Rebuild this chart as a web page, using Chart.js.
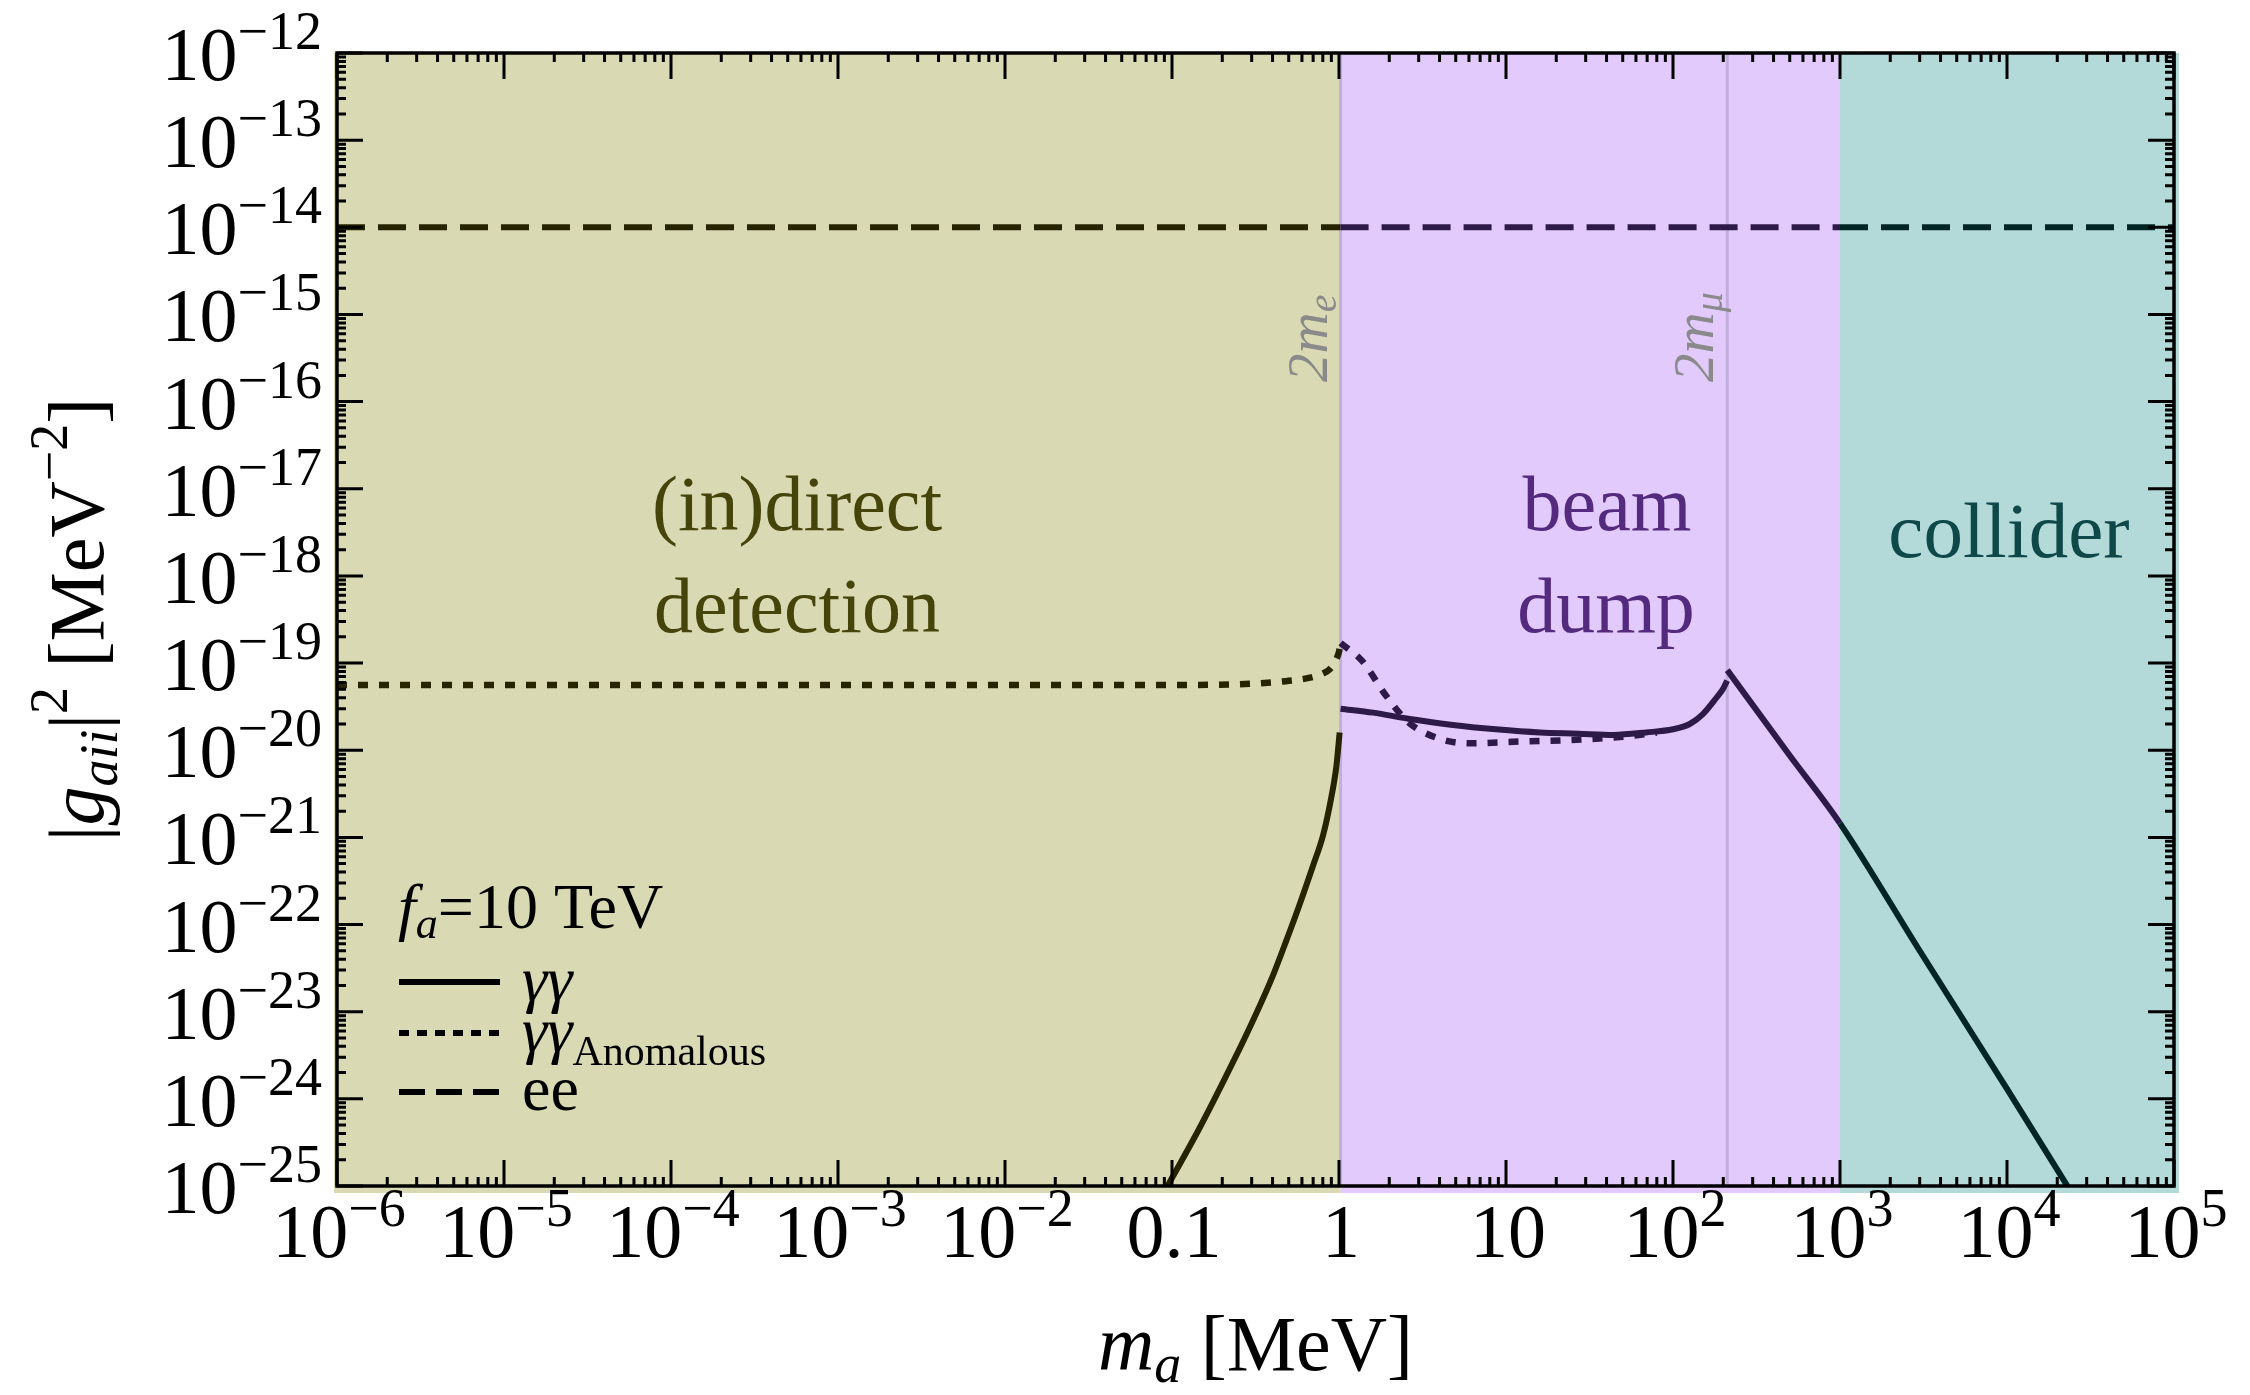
<!DOCTYPE html>
<html>
<head>
<meta charset="utf-8">
<script src="https://cdn.jsdelivr.net/npm/chart.js@4.4.1/dist/chart.umd.min.js"></script>
<style>
  html, body { margin: 0; padding: 0; background: #fff; }
  canvas { display: block; }
</style>
</head>
<body>
<canvas id="chart" width="2250" height="1395"></canvas>
<script>
// ---- data (MeV, MeV^-2) ----
const xTicks = [1e-6, 1e-5, 1e-4, 1e-3, 1e-2, 0.1, 1, 10, 100, 1e3, 1e4, 1e5];
const xTickLabels = ['10^−6', '10^−5', '10^−4', '10^−3', '10^−2', '0.1', '1', '10', '10^2', '10^3', '10^4', '10^5'];
const yTicks = [1e-25, 1e-24, 1e-23, 1e-22, 1e-21, 1e-20, 1e-19, 1e-18, 1e-17, 1e-16, 1e-15, 1e-14, 1e-13, 1e-12];
const yTickLabels = ['10^−25', '10^−24', '10^−23', '10^−22', '10^−21', '10^−20', '10^−19', '10^−18', '10^−17', '10^−16', '10^−15', '10^−14', '10^−13', '10^−12'];

// region boundaries: (in)direct detection | beam dump | collider
const regionEdges = [1e-6, 1.022, 1000, 1e5];
const thresholdMasses = [1.022, 211.3]; // 2m_e, 2m_mu

// ee coupling
const eeMass = [1e-6, 1.022, 1000, 1e5];
const eeCoupling = [1e-14, 1e-14, 1e-14, 1e-14];

// gamma gamma anomalous, below 2m_e
const anomLowMass = [1e-6, 1e-4, 1e-2, 0.1, 0.3, 0.48, 0.67, 0.8, 0.88, 0.95, 1.0, 1.022];
const anomLowCoupling = [5.6e-20, 5.6e-20, 5.6e-20, 5.6e-20, 5.8e-20, 6.2e-20, 6.8e-20, 7.6e-20, 8.5e-20, 1.05e-19, 1.35e-19, 1.7e-19];

// gamma gamma anomalous, above 2m_e
const anomMidMass = [1.022, 1.38, 1.9, 2.6, 3.8, 6, 11, 22, 55, 80];
const anomMidCoupling = [1.7e-19, 1.05e-19, 4.3e-20, 2.1e-20, 1.4e-20, 1.2e-20, 1.25e-20, 1.3e-20, 1.45e-20, 1.6e-20];

// gamma gamma, below 2m_e
const ggLowMass = [0.094, 0.146, 0.231, 0.319, 0.402, 0.483, 0.581, 0.698, 0.802, 0.9, 0.964, 1.009];
const ggLowCoupling = [1e-25, 4.6e-25, 2.6e-24, 9.5e-24, 2.6e-23, 6.5e-23, 1.7e-22, 4.7e-22, 1.05e-21, 2.9e-21, 6.5e-21, 1.6e-20];

// gamma gamma, 2m_e .. 2m_mu
const ggMidMass = [1.022, 1.6, 2.6, 4.8, 8.7, 16, 27, 44, 69, 100, 126, 151, 182, 200, 211];
const ggMidCoupling = [3.0e-20, 2.7e-20, 2.3e-20, 1.95e-20, 1.74e-20, 1.6e-20, 1.55e-20, 1.5e-20, 1.6e-20, 1.74e-20, 2.0e-20, 2.6e-20, 4.0e-20, 5.1e-20, 6.3e-20];

// gamma gamma, above 2m_mu
const ggHighMass = [211.3, 500, 1000, 3000, 1e4, 2.3e4];
const ggHighCoupling = [8.3e-20, 8.7e-21, 1.45e-21, 5e-23, 1.3e-24, 1e-25];

// ---- style ----
const FONT = '"Liberation Serif", "Times New Roman", serif';
const regionFill = ['#d9d9b3', '#e2cbfc', '#b3dad9'];
const curveColor = ['#262400', '#2e1a48', '#002424'];
const labelColor = ['#45440a', '#532a7e', '#0f4848'];

function regionIndex(x) {
  if (x < regionEdges[1] - 1e-9) return 0;
  if (x < regionEdges[2] - 1e-9) return 1;
  return 2;
}

function pts(xs, ys) {
  return xs.map((x, i) => ({ x, y: ys[i] }));
}

function byRegion(ctx) {
  return curveColor[regionIndex(ctx.p0.parsed.x)];
}

function fontOf(size, italic) {
  return (italic ? 'italic ' : '') + size + 'px ' + FONT;
}

// parts: [text, size, italic, dy]
function drawRich(ctx, parts, x, y, align) {
  let w = 0;
  parts.forEach(p => { ctx.font = fontOf(p[1], p[2]); w += ctx.measureText(p[0]).width; });
  let cx = align === 'center' ? x - w / 2 : align === 'right' ? x - w : x;
  ctx.textAlign = 'left';
  ctx.textBaseline = 'alphabetic';
  parts.forEach(p => {
    ctx.font = fontOf(p[1], p[2]);
    ctx.fillText(p[0], cx, y + (p[3] || 0));
    cx += ctx.measureText(p[0]).width;
  });
}

function tickParts(label) {
  const [base, exp] = label.split('^');
  const parts = [[base, 76, false, 0]];
  if (exp) parts.push([exp, 54, false, -31]);
  return parts;
}

// 背景区域和阈值线
const regionPlugin = {
  id: 'regions',
  beforeDatasetsDraw(chart) {
    const { ctx, chartArea: a, scales: { x } } = chart;
    ctx.save();
    for (let i = 0; i < 3; i++) {
      let x0 = x.getPixelForValue(regionEdges[i]);
      let x1 = x.getPixelForValue(regionEdges[i + 1]);
      if (i === 0) x0 -= 3;
      if (i === 2) x1 += 5;
      ctx.fillStyle = regionFill[i];
      ctx.fillRect(x0, a.top, x1 - x0, a.bottom - a.top + 7);
    }
    ctx.strokeStyle = '#c2aedb';
    ctx.lineWidth = 3;
    thresholdMasses.forEach(m => {
      const px = x.getPixelForValue(m);
      ctx.beginPath();
      ctx.moveTo(px, a.top);
      ctx.lineTo(px, a.bottom);
      ctx.stroke();
    });

    // region labels
    ctx.fillStyle = labelColor[0];
    drawRich(ctx, [['(in)direct', 78]], 797, 530, 'center');
    drawRich(ctx, [['detection', 78]], 797, 632, 'center');
    ctx.fillStyle = labelColor[1];
    drawRich(ctx, [['beam', 78]], 1607, 530, 'center');
    drawRich(ctx, [['dump', 78]], 1606, 632, 'center');
    ctx.fillStyle = labelColor[2];
    drawRich(ctx, [['collider', 79]], 2009, 557, 'center');

    // threshold labels, rotated
    ctx.fillStyle = '#8a8a8a';
    const thrLabels = [['e', 1.022], ['μ', 211.3]];
    thrLabels.forEach(([sub, m]) => {
      const px = x.getPixelForValue(m) - 14;
      ctx.save();
      ctx.translate(px, 382);
      ctx.rotate(-Math.PI / 2);
      drawRich(ctx, [['2', 57, true], ['m', 57, true], [sub, 40, true, 9]], 0, 0, 'left');
      ctx.restore();
    });
    ctx.restore();
  },
  afterDatasetsDraw(chart) {
    const { ctx, chartArea: a, scales: { x, y } } = chart;
    ctx.save();
    // 刻度
    ctx.strokeStyle = '#000';
    ctx.lineWidth = 3;
    const major = 26, minor = 9;
    ctx.beginPath();
    for (let k = -6; k <= 5; k++) {
      for (let m = 1; m <= 9; m++) {
        const v = m * Math.pow(10, k);
        if (v > 1e5 * 1.0001) break;
        const px = x.getPixelForValue(v);
        const len = m === 1 ? major : minor;
        ctx.moveTo(px, a.bottom); ctx.lineTo(px, a.bottom - len);
        ctx.moveTo(px, a.top); ctx.lineTo(px, a.top + len);
      }
    }
    for (let k = -25; k <= -12; k++) {
      for (let m = 1; m <= 9; m++) {
        const v = m * Math.pow(10, k);
        if (v > 1e-12 * 1.0001) break;
        const py = y.getPixelForValue(v);
        const len = m === 1 ? major : minor;
        ctx.moveTo(a.left, py); ctx.lineTo(a.left + len, py);
        ctx.moveTo(a.right, py); ctx.lineTo(a.right - len, py);
      }
    }
    ctx.stroke();
    // frame
    ctx.lineWidth = 3.5;
    ctx.strokeRect(a.left, a.top, a.right - a.left, a.bottom - a.top);

    // tick labels
    ctx.fillStyle = '#000';
    xTicks.forEach((v, i) => {
      drawRich(ctx, tickParts(xTickLabels[i]), x.getPixelForValue(v) + 2, 1257, 'center');
    });
    yTicks.forEach((v, i) => {
      drawRich(ctx, tickParts(yTickLabels[i]), 322, y.getPixelForValue(v) + 27, 'right');
    });

    // axis titles
    drawRich(ctx, [['m', 78, true], ['a', 54, true, 12], [' [MeV]', 78]], (a.left + a.right) / 2, 1370, 'center');
    ctx.save();
    ctx.translate(103, (a.top + a.bottom) / 2);
    ctx.rotate(-Math.PI / 2);
    drawRich(ctx, [['|', 78], ['g', 78, true], ['aii', 54, true, 14], ['|', 78], ['2', 54, false, -36],
      [' [MeV', 78], ['−2', 54, false, -36], [']', 78]], 0, 0, 'center');
    ctx.restore();

    // legend
    drawRich(ctx, [['f', 64, true], ['a', 44, true, 10], ['=10 TeV', 64]], 398, 928, 'left');
    const legendRows = [
      { y: 982, dash: [], parts: [['γγ', 64, true]], dy: 18 },
      { y: 1033, dash: [10, 8], parts: [['γγ', 64, true], ['Anomalous', 42, false, 14]], dy: 18 },
      { y: 1092, dash: [26, 11], parts: [['ee', 64]], dy: 18 }
    ];
    ctx.lineWidth = 6;
    legendRows.forEach(r => {
      ctx.setLineDash(r.dash);
      ctx.beginPath();
      ctx.moveTo(399, r.y);
      ctx.lineTo(500, r.y);
      ctx.stroke();
      drawRich(ctx, r.parts, 522, r.y + r.dy, 'left');
    });
    ctx.setLineDash([]);
    ctx.restore();
  }
};

const datasets = [
  { data: pts(eeMass, eeCoupling), borderDash: [28, 13], borderWidth: 6, tension: 0,
    segment: { borderColor: byRegion } },
  { data: pts(anomLowMass, anomLowCoupling), borderColor: curveColor[0], borderDash: [10, 11], borderWidth: 6.5 },
  { data: pts(anomMidMass, anomMidCoupling), borderColor: curveColor[1], borderDash: [10, 11], borderWidth: 6.5 },
  { data: pts(ggLowMass, ggLowCoupling), borderColor: curveColor[0] },
  { data: pts(ggMidMass, ggMidCoupling), borderColor: curveColor[1] },
  { data: pts(ggHighMass, ggHighCoupling), tension: 0, segment: { borderColor: byRegion } }
];

new Chart(document.getElementById('chart'), {
  type: 'line',
  data: { datasets },
  options: {
    responsive: false,
    animation: false,
    devicePixelRatio: 1,
    layout: { padding: { left: 337, right: 76, top: 53, bottom: 209 } },
    elements: {
      point: { radius: 0 },
      line: { borderWidth: 6, cubicInterpolationMode: 'monotone', fill: false, borderCapStyle: 'butt' }
    },
    plugins: { legend: { display: false }, tooltip: { enabled: false } },
    scales: {
      x: { type: 'logarithmic', min: 1e-6, max: 1e5, display: false },
      y: { type: 'logarithmic', min: 1e-25, max: 1e-12, display: false }
    }
  },
  plugins: [regionPlugin]
});
</script>
</body>
</html>
